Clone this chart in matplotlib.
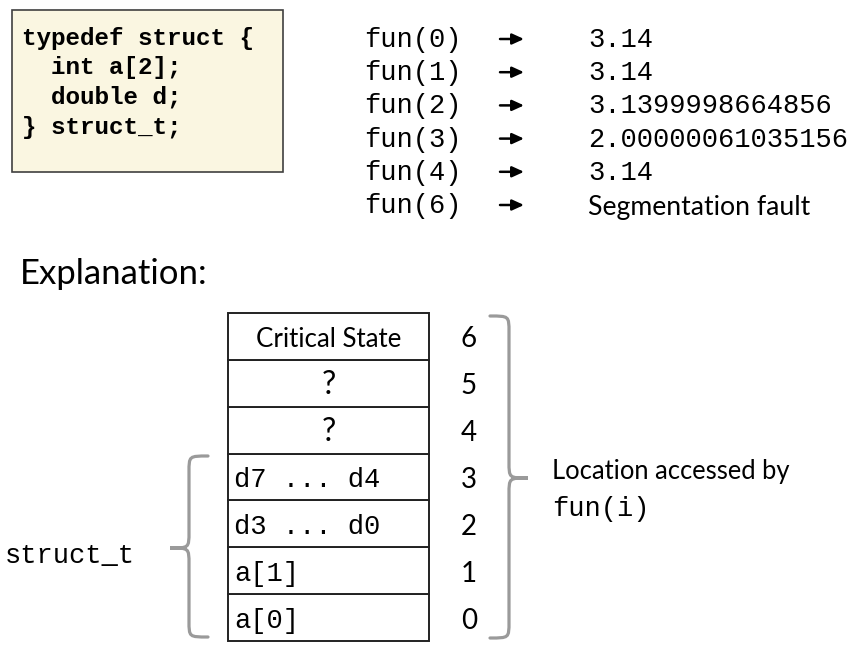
import matplotlib.pyplot as plt
from matplotlib.patches import Rectangle, PathPatch
from matplotlib.path import Path

# code shown in the box
code_lines = ["typedef struct {", "  int a[2];", "  double d;", "} struct_t;"]

# calls and what they return
calls = ["fun(0)", "fun(1)", "fun(2)", "fun(3)", "fun(4)", "fun(6)"]
results = ["3.14", "3.14", "3.1399998664856", "2.00000061035156", "3.14",
           "Segmentation fault"]

# memory cells, from index 0 upward
cell_idx = [0, 1, 2, 3, 4, 5, 6]
cell_text = ["a[0]", "a[1]", "d3 ... d0", "d7 ... d4", "?", "?", "Critical State"]
cell_mono = [True, True, True, True, False, False, False]

MONO = "Liberation Mono"
SANS = "Lato"
GREY = "#9a9a9a"

fig = plt.figure(figsize=(8.64, 6.53), dpi=100)
ax = fig.add_axes([0, 0, 1, 1])
ax.set_xlim(0, 864)
ax.set_ylim(653, 0)
ax.axis("off")

# code box
ax.add_patch(Rectangle((12, 10), 271, 162, facecolor="#faf6e1",
                       edgecolor="#404040", lw=1.2))
for i, line in enumerate(code_lines):
    ax.text(22, 38 + i * 29.7, line, family=MONO, weight="bold",
            fontsize=17.5, va="center", ha="left")

# results list
for i, (c, r) in enumerate(zip(calls, results)):
    y = 40 + i * 33.2
    ax.text(364, y, c, family=MONO, fontsize=19.5, va="center")
    ax.annotate("", xy=(524, y - 1), xytext=(500, y - 1),
                arrowprops=dict(arrowstyle="-|>,head_length=0.7,head_width=0.32",
                                lw=1.8, color="black", shrinkA=0, shrinkB=0))
    if r[0].isdigit():
        ax.text(588, y, r, family=MONO, fontsize=19.5, va="center")
    else:
        ax.text(588, y + 1, r, family=SANS, fontsize=19.2, va="center")

ax.text(20, 274, "Explanation:", family=SANS, fontsize=25, va="center")

# memory table
x0, x1 = 228, 429
top, bot = 313, 641
h = (bot - top) / len(cell_idx)
for k, txt, mono in zip(cell_idx, cell_text, cell_mono):
    yb = bot - k * h
    ax.add_patch(Rectangle((x0, yb - h), x1 - x0, h, facecolor="white",
                           edgecolor="#222222", lw=1.4))
    yc = yb - h / 2 + 3
    if mono:
        ax.text(x0 + 6, yc, txt, family=MONO, fontsize=19.5, va="center")
    elif txt == "?":
        ax.text((x0 + x1) / 2, yc - 1, txt, family=SANS, fontsize=23,
                va="center", ha="center")
    else:
        ax.text((x0 + x1) / 2, yc, txt, family=SANS, fontsize=18.6,
                va="center", ha="center")
    ax.text(469, yc, str(k), family=SANS, fontsize=20, va="center",
            ha="center")


def brace(xa, xb, ya, yb, ytip, direction):
    # curly brace; direction +1 points right, -1 points left
    xm = (xa + xb) / 2
    if direction > 0:
        xs, xt = xa, xb
    else:
        xs, xt = xb, xa
    r = 16
    verts = [(xs, ya),
             (xm, ya), (xm, ya), (xm, ya + r),
             (xm, ytip - r),
             (xm, ytip), (xm, ytip), (xt, ytip),
             (xm, ytip), (xm, ytip), (xm, ytip + r),
             (xm, yb - r),
             (xm, yb), (xm, yb), (xs, yb)]
    codes = [Path.MOVETO,
             Path.CURVE4, Path.CURVE4, Path.CURVE4,
             Path.LINETO,
             Path.CURVE4, Path.CURVE4, Path.CURVE4,
             Path.CURVE4, Path.CURVE4, Path.CURVE4,
             Path.LINETO,
             Path.CURVE4, Path.CURVE4, Path.CURVE4]
    ax.add_patch(PathPatch(Path(verts, codes), facecolor="none",
                           edgecolor=GREY, lw=2.3, capstyle="round"))


brace(490, 528, 316, 638, 478, 1)
brace(170, 208, 456, 637, 548, -1)

ax.text(552, 472, "Location accessed by", family=SANS, fontsize=18.4,
        va="center")
ax.text(552, 509, "fun(i)", family=MONO, fontsize=19.5, va="center")
ax.text(5, 556, "struct_t", family=MONO, fontsize=19.5, va="center")

fig.savefig("out.png", dpi=100)
